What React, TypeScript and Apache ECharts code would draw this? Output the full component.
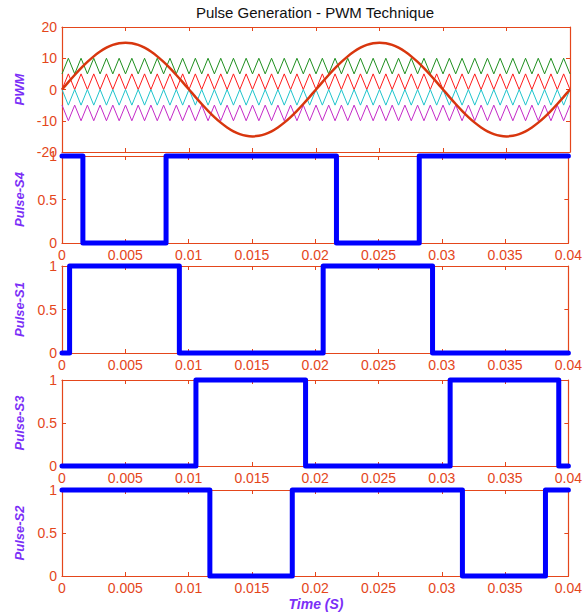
import React, { useEffect, useRef } from "react";
import * as echarts from "echarts";

// Carrier vertex times (s)
const carrierTimes = [
  0, 0.0005, 0.001, 0.0015, 0.002, 0.0025, 0.003, 0.0035, 0.004, 0.0045,
  0.005, 0.0055, 0.006, 0.0065, 0.007, 0.0075, 0.008, 0.0085, 0.009, 0.0095,
  0.01, 0.0105, 0.011, 0.0115, 0.012, 0.0125, 0.013, 0.0135, 0.014, 0.0145,
  0.015, 0.0155, 0.016, 0.0165, 0.017, 0.0175, 0.018, 0.0185, 0.019, 0.0195,
  0.02, 0.0205, 0.021, 0.0215, 0.022, 0.0225, 0.023, 0.0235, 0.024, 0.0245,
  0.025, 0.0255, 0.026, 0.0265, 0.027, 0.0275, 0.028, 0.0285, 0.029, 0.0295,
  0.03, 0.0305, 0.031, 0.0315, 0.032, 0.0325, 0.033, 0.0335, 0.034, 0.0345,
  0.035, 0.0355, 0.036, 0.0365, 0.037, 0.0375, 0.038, 0.0385, 0.039, 0.0395,
  0.04,
];

const greenCarrier = [
  5, 10, 5, 10, 5, 10, 5, 10, 5, 10,
  5, 10, 5, 10, 5, 10, 5, 10, 5, 10,
  5, 10, 5, 10, 5, 10, 5, 10, 5, 10,
  5, 10, 5, 10, 5, 10, 5, 10, 5, 10,
  5, 10, 5, 10, 5, 10, 5, 10, 5, 10,
  5, 10, 5, 10, 5, 10, 5, 10, 5, 10,
  5, 10, 5, 10, 5, 10, 5, 10, 5, 10,
  5, 10, 5, 10, 5, 10, 5, 10, 5, 10,
  5,
];

const redCarrier = [
  0, 5, 0, 5, 0, 5, 0, 5, 0, 5,
  0, 5, 0, 5, 0, 5, 0, 5, 0, 5,
  0, 5, 0, 5, 0, 5, 0, 5, 0, 5,
  0, 5, 0, 5, 0, 5, 0, 5, 0, 5,
  0, 5, 0, 5, 0, 5, 0, 5, 0, 5,
  0, 5, 0, 5, 0, 5, 0, 5, 0, 5,
  0, 5, 0, 5, 0, 5, 0, 5, 0, 5,
  0, 5, 0, 5, 0, 5, 0, 5, 0, 5,
  0,
];

const cyanCarrier = [
  0, -5, 0, -5, 0, -5, 0, -5, 0, -5,
  0, -5, 0, -5, 0, -5, 0, -5, 0, -5,
  0, -5, 0, -5, 0, -5, 0, -5, 0, -5,
  0, -5, 0, -5, 0, -5, 0, -5, 0, -5,
  0, -5, 0, -5, 0, -5, 0, -5, 0, -5,
  0, -5, 0, -5, 0, -5, 0, -5, 0, -5,
  0, -5, 0, -5, 0, -5, 0, -5, 0, -5,
  0, -5, 0, -5, 0, -5, 0, -5, 0, -5,
  0,
];

const magentaCarrier = [
  -5, -10, -5, -10, -5, -10, -5, -10, -5, -10,
  -5, -10, -5, -10, -5, -10, -5, -10, -5, -10,
  -5, -10, -5, -10, -5, -10, -5, -10, -5, -10,
  -5, -10, -5, -10, -5, -10, -5, -10, -5, -10,
  -5, -10, -5, -10, -5, -10, -5, -10, -5, -10,
  -5, -10, -5, -10, -5, -10, -5, -10, -5, -10,
  -5, -10, -5, -10, -5, -10, -5, -10, -5, -10,
  -5, -10, -5, -10, -5, -10, -5, -10, -5, -10,
  -5,
];

// Reference (modulating) wave, read at the same times
const referenceWave = [
  0, 2.35, 4.64, 6.81, 8.82, 10.61, 12.14, 13.37, 14.27, 14.82,
  15, 14.82, 14.27, 13.37, 12.14, 10.61, 8.82, 6.81, 4.64, 2.35,
  0, -2.35, -4.64, -6.81, -8.82, -10.61, -12.14, -13.37, -14.27, -14.82,
  -15, -14.82, -14.27, -13.37, -12.14, -10.61, -8.82, -6.81, -4.64, -2.35,
  0, 2.35, 4.64, 6.81, 8.82, 10.61, 12.14, 13.37, 14.27, 14.82,
  15, 14.82, 14.27, 13.37, 12.14, 10.61, 8.82, 6.81, 4.64, 2.35,
  0, -2.35, -4.64, -6.81, -8.82, -10.61, -12.14, -13.37, -14.27, -14.82,
  -15, -14.82, -14.27, -13.37, -12.14, -10.61, -8.82, -6.81, -4.64, -2.35,
  0,
];

// Pulse edges (s) and the level held from each edge
const s4Times = [0, 0.00165, 0.00822, 0.02168, 0.02822, 0.04];
const s4Levels = [1, 0, 1, 0, 1, 1];
const s1Times = [0, 0.0006, 0.00927, 0.02063, 0.02927, 0.04];
const s1Levels = [0, 1, 0, 1, 0, 0];
const s3Times = [0, 0.01058, 0.01924, 0.03066, 0.03924, 0.04];
const s3Levels = [0, 1, 0, 1, 0, 0];
const s2Times = [0, 0.01168, 0.01819, 0.03163, 0.03819, 0.04];
const s2Levels = [1, 0, 1, 0, 1, 1];

const panelNames = ["PWM", "Pulse-S4", "Pulse-S1", "Pulse-S3", "Pulse-S2"];

const AXIS = "#e4461b";
const PURPLE = "#7b2ff7";
const FONT = "'Liberation Sans', Arial, Helvetica, sans-serif";

const zip = (xs: number[], ys: number[]) => xs.map((x, i) => [x, ys[i]]);

export default function App() {
  const ref = useRef<HTMLDivElement>(null);

  useEffect(() => {
    if (!ref.current) return;
    const chart = echarts.init(ref.current, undefined, { renderer: "svg" });

    const layout = [
      { top: 27, height: 125, min: -20, max: 20, interval: 10, showX: false },
      { top: 156, height: 87, min: 0, max: 1, interval: 0.5, showX: true },
      { top: 266, height: 87, min: 0, max: 1, interval: 0.5, showX: true },
      { top: 380, height: 86, min: 0, max: 1, interval: 0.5, showX: true },
      { top: 490, height: 86, min: 0, max: 1, interval: 0.5, showX: true },
    ];

    const grid: any[] = [];
    const xAxis: any[] = [];
    const yAxis: any[] = [];
    const tick = { show: true, inside: true, length: 4, lineStyle: { color: AXIS, width: 1 } };
    const line = { show: true, onZero: false, lineStyle: { color: AXIS, width: 1.2 } };

    layout.forEach((p, i) => {
      grid.push({ left: 62, width: 508, top: p.top, height: p.height, containLabel: false });
      ["bottom", "top"].forEach((pos) => {
        xAxis.push({
          type: "value",
          gridIndex: i,
          position: pos,
          min: 0,
          max: 0.04,
          interval: 0.005,
          axisLine: line,
          axisTick: tick,
          splitLine: { show: false },
          axisLabel: {
            show: pos === "bottom" && p.showX,
            color: AXIS,
            fontSize: 14,
            fontFamily: FONT,
            margin: 5,
            formatter: (v: number) => String(+v.toFixed(4)),
          },
        });
      });
      ["left", "right"].forEach((pos) => {
        yAxis.push({
          type: "value",
          gridIndex: i,
          position: pos,
          min: p.min,
          max: p.max,
          interval: p.interval,
          axisLine: line,
          axisTick: tick,
          splitLine: { show: false },
          axisLabel: {
            show: pos === "left",
            color: AXIS,
            fontSize: 14,
            fontFamily: FONT,
            margin: 5,
          },
          name: pos === "left" ? panelNames[i] : "",
          nameLocation: "middle",
          nameGap: 36,
          nameTextStyle: {
            color: PURPLE,
            fontStyle: "italic",
            fontWeight: "bold",
            fontSize: 13,
            fontFamily: FONT,
          },
        });
      });
    });

    const carrier = (data: number[], color: string) => ({
      type: "line",
      xAxisIndex: 0,
      yAxisIndex: 0,
      data: zip(carrierTimes, data),
      showSymbol: false,
      symbol: "none",
      lineStyle: { color, width: 1 },
    });

    const pulse = (times: number[], levels: number[], idx: number) => ({
      type: "line",
      xAxisIndex: idx * 2,
      yAxisIndex: idx * 2,
      data: zip(times, levels),
      step: "end",
      symbol: "none",
      showSymbol: false,
      clip: false,
      lineStyle: { color: "#0000ff", width: 5, cap: "round", join: "round" },
      z: 5,
    });

    chart.setOption({
      animation: false,
      backgroundColor: "#ffffff",
      grid,
      xAxis,
      yAxis,
      graphic: [
        {
          type: "text",
          x: 315,
          y: 12,
          style: {
            text: "Pulse Generation - PWM Technique",
            fill: "#111111",
            fontSize: 15,
            fontFamily: FONT,
            textAlign: "center",
            textVerticalAlign: "middle",
            align: "center",
            verticalAlign: "middle",
          },
        },
        {
          type: "text",
          x: 316,
          y: 604,
          style: {
            text: "Time (S)",
            fill: PURPLE,
            fontSize: 14,
            fontWeight: "bold",
            fontStyle: "italic",
            fontFamily: FONT,
            textAlign: "center",
            textVerticalAlign: "middle",
            align: "center",
            verticalAlign: "middle",
          },
        },
      ],
      series: [
        carrier(greenCarrier, "#1f8f1f"),
        carrier(redCarrier, "#ff1a1a"),
        carrier(cyanCarrier, "#1fc4cc"),
        carrier(magentaCarrier, "#c42ac8"),
        {
          type: "line",
          xAxisIndex: 0,
          yAxisIndex: 0,
          data: zip(carrierTimes, referenceWave),
          smooth: 0.3,
          symbol: "none",
          showSymbol: false,
          lineStyle: { color: "#d8360e", width: 2.5 },
          z: 4,
        },
        pulse(s4Times, s4Levels, 1),
        pulse(s1Times, s1Levels, 2),
        pulse(s3Times, s3Levels, 3),
        pulse(s2Times, s2Levels, 4),
      ],
    });

    return () => chart.dispose();
  }, []);

  return (
    <div
      ref={ref}
      style={{ position: "absolute", left: 0, top: 0, width: 585, height: 613 }}
    />
  );
}
